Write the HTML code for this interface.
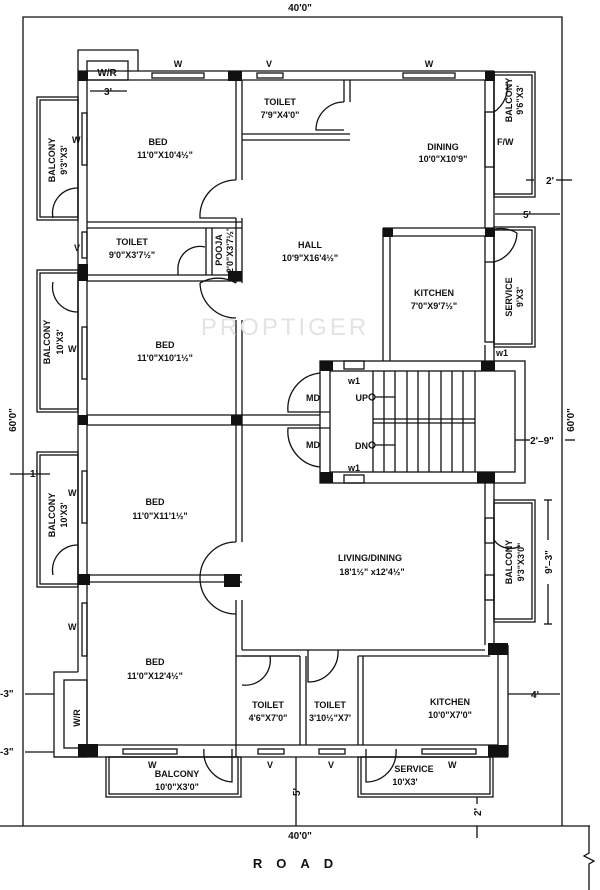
<!DOCTYPE html>
<html><head><meta charset="utf-8"><style>
html,body{margin:0;padding:0;background:#fff;}
svg{display:block;}
text{font-family:"Liberation Sans",sans-serif;fill:#111;font-weight:bold;}
.t{font-size:10px;}
.s{font-size:9px;}
</style></head><body>
<svg width="600" height="890" viewBox="0 0 600 890" xmlns="http://www.w3.org/2000/svg">
<g fill="none" stroke="#111" stroke-width="1.3">
<polyline points="23,826 23,17 562,17 562,826"/>
<line x1="0" y1="826" x2="590" y2="826"/>
<polyline points="589,826 589,853 584,856 594,861 589,864 589,890"/>
<polyline points="78,71 78,50 138,50 138,71"/>
<rect x="87" y="61" width="41" height="19"/>
<line x1="78" y1="71" x2="494" y2="71"/><line x1="87" y1="80" x2="485" y2="80"/>
<line x1="78" y1="71" x2="78" y2="672"/><line x1="87" y1="80" x2="87" y2="745"/>
<polyline points="78,672 54,672 54,757 87,757"/>
<rect x="64" y="680" width="23" height="68"/>
<line x1="494" y1="71" x2="494" y2="361"/><line x1="485" y1="80" x2="485" y2="228"/>
<line x1="236" y1="80" x2="236" y2="180"/><line x1="242" y1="140" x2="242" y2="180"/>
<line x1="236" y1="218" x2="236" y2="283"/><line x1="242" y1="218" x2="242" y2="283"/>
<line x1="236" y1="320" x2="236" y2="542"/><line x1="242" y1="320" x2="242" y2="542"/>
<line x1="236" y1="600" x2="236" y2="757"/><line x1="242" y1="600" x2="242" y2="650"/>
<line x1="242" y1="80" x2="242" y2="140"/><line x1="242" y1="134" x2="350" y2="134"/><line x1="242" y1="140" x2="350" y2="140"/>
<line x1="344" y1="80" x2="344" y2="102"/><line x1="350" y1="80" x2="350" y2="102"/>
<path d="M344,102 A28,28 0 0 0 316,130 L344,130"/>
<line x1="87" y1="222" x2="242" y2="222"/><line x1="87" y1="228" x2="242" y2="228"/>
<line x1="87" y1="275" x2="242" y2="275"/><line x1="87" y1="281" x2="242" y2="281"/>
<line x1="206" y1="228" x2="206" y2="275"/><line x1="212" y1="228" x2="212" y2="275"/>
<path d="M205,247 A22,22 0 0 0 178,270 L178,275"/>
<path d="M236,180 A36,36 0 0 0 200,218 L236,218"/>
<path d="M236,283 A36,36 0 0 0 200,283 M200,283 A36,36 0 0 0 236,318"/>
<line x1="87" y1="415" x2="320" y2="415"/><line x1="87" y1="425" x2="320" y2="425"/>
<line x1="87" y1="575" x2="242" y2="575"/><line x1="87" y1="582" x2="242" y2="582"/>
<path d="M236,542 A36,36 0 0 0 200,578 M200,578 A36,36 0 0 0 236,614"/>
<rect x="37" y="97" width="41" height="123"/><rect x="40" y="100" width="38" height="117"/>
<path d="M78,188 A25,25 0 0 0 53,218"/>
<rect x="37" y="270" width="41" height="142"/><rect x="40" y="273" width="38" height="136"/>
<path d="M53,282 A25,25 0 0 0 78,312"/>
<rect x="37" y="452" width="41" height="135"/><rect x="40" y="455" width="38" height="129"/>
<path d="M78,545 A25,25 0 0 0 53,575"/>
<rect x="82" y="113" width="5" height="52"/><rect x="82" y="232" width="5" height="26"/>
<rect x="82" y="327" width="5" height="52"/><rect x="82" y="471" width="5" height="52"/><rect x="82" y="603" width="5" height="53"/>
<rect x="152" y="73" width="52" height="5"/><rect x="257" y="73" width="26" height="5"/><rect x="403" y="73" width="52" height="5"/>
<line x1="383" y1="228" x2="494" y2="228"/><line x1="390" y1="236" x2="485" y2="236"/>
<line x1="383" y1="228" x2="383" y2="361"/><line x1="390" y1="236" x2="390" y2="361"/>
<line x1="485" y1="236" x2="485" y2="262"/><line x1="485" y1="345" x2="485" y2="361"/>
<path d="M485,233 A31,31 0 0 1 517,233 M517,233 A31,31 0 0 1 494,262"/>
<rect x="494" y="72" width="41" height="125"/><rect x="494" y="75" width="38" height="119"/>
<rect x="485" y="112" width="9" height="55"/>
<path d="M507,82 A30,30 0 0 1 494,112"/>
<rect x="494" y="227" width="41" height="120"/><rect x="494" y="230" width="38" height="114"/>
<rect x="485" y="262" width="9" height="80"/>
<rect x="494" y="500" width="41" height="122"/><rect x="494" y="503" width="38" height="116"/>
<rect x="485" y="518" width="9" height="25"/><rect x="485" y="575" width="9" height="25"/>
<path d="M494,540 A20,20 0 0 0 520,546"/>
<rect x="320" y="361" width="205" height="122"/><rect x="330" y="371" width="185" height="101"/>
<rect x="344" y="361" width="20" height="8"/><rect x="344" y="475" width="20" height="8"/>
<line x1="373" y1="371" x2="373" y2="472"/><line x1="384" y1="371" x2="384" y2="472"/><line x1="395" y1="371" x2="395" y2="472"/>
<line x1="407" y1="371" x2="407" y2="472"/><line x1="418" y1="371" x2="418" y2="472"/><line x1="429" y1="371" x2="429" y2="472"/>
<line x1="441" y1="371" x2="441" y2="472"/><line x1="452" y1="371" x2="452" y2="472"/><line x1="463" y1="371" x2="463" y2="472"/>
<line x1="475" y1="371" x2="475" y2="472"/>
<line x1="373" y1="419" x2="475" y2="419"/><line x1="373" y1="423" x2="475" y2="423"/>
<circle cx="372" cy="397" r="3"/><line x1="375" y1="397" x2="395" y2="397"/>
<circle cx="372" cy="445" r="3"/><line x1="375" y1="445" x2="395" y2="445"/>
<path d="M320,373 A36,36 0 0 0 288,412 L330,412 M320,467 A36,36 0 0 1 288,428 L330,428"/>
<line x1="485" y1="483" x2="485" y2="645"/><line x1="494" y1="483" x2="494" y2="645"/>
<line x1="242" y1="650" x2="485" y2="650"/><line x1="242" y1="656" x2="300" y2="656"/><line x1="358" y1="656" x2="490" y2="656"/>
<line x1="236" y1="656" x2="300" y2="656"/><line x1="300" y1="656" x2="300" y2="745"/><line x1="306" y1="656" x2="306" y2="745"/>
<line x1="358" y1="656" x2="358" y2="745"/><line x1="363" y1="656" x2="363" y2="745"/>
<path d="M270,656 A25,25 0 0 1 242,685"/>
<path d="M338,650 A30,30 0 0 1 308,682 L308,650"/>
<line x1="498" y1="655" x2="498" y2="745"/><line x1="508" y1="645" x2="508" y2="757"/>
<line x1="87" y1="745" x2="498" y2="745"/><line x1="54" y1="757" x2="508" y2="757"/>
<rect x="123" y="749" width="54" height="5"/><rect x="258" y="749" width="26" height="5"/><rect x="319" y="749" width="26" height="5"/><rect x="422" y="749" width="54" height="5"/>
<rect x="106" y="757" width="135" height="40"/><rect x="109" y="757" width="129" height="37"/>
<path d="M204,749 A30,30 0 0 0 232,782 L232,749"/>
<rect x="358" y="757" width="135" height="40"/><rect x="361" y="757" width="129" height="37"/>
<path d="M396,749 A30,30 0 0 1 366,782 L366,749"/>
<line x1="90" y1="91" x2="127" y2="91"/>
<line x1="556" y1="180" x2="572" y2="180"/><line x1="534" y1="180" x2="526" y2="180"/>
<line x1="495" y1="214" x2="560" y2="214"/>
<line x1="515" y1="440" x2="530" y2="440"/><line x1="565" y1="440" x2="575" y2="440"/>
<line x1="548" y1="500" x2="548" y2="624"/><line x1="544" y1="500" x2="552" y2="500"/><line x1="544" y1="624" x2="552" y2="624"/>
<line x1="508" y1="694" x2="560" y2="694"/>
<line x1="10" y1="474" x2="50" y2="474"/>
<line x1="25" y1="694" x2="54" y2="694"/><line x1="25" y1="752" x2="54" y2="752"/>
<line x1="296" y1="757" x2="296" y2="826"/>
<line x1="477" y1="797" x2="477" y2="804"/><line x1="477" y1="826" x2="477" y2="838"/>
</g>
<g fill="#111">
<rect x="78" y="71" width="10" height="10"/><rect x="228" y="71" width="14" height="10"/><rect x="485" y="71" width="10" height="10"/>
<rect x="78" y="264" width="10" height="17"/><rect x="228" y="271" width="14" height="10"/>
<rect x="383" y="228" width="10" height="9"/><rect x="485" y="228" width="10" height="9"/>
<rect x="320" y="361" width="13" height="10"/><rect x="481" y="361" width="14" height="10"/>
<rect x="320" y="472" width="13" height="11"/><rect x="477" y="472" width="18" height="11"/>
<rect x="78" y="415" width="10" height="10"/><rect x="231" y="415" width="11" height="10"/>
<rect x="78" y="574" width="12" height="11"/><rect x="224" y="574" width="16" height="13"/>
<rect x="488" y="643" width="20" height="12"/><rect x="488" y="745" width="20" height="12"/>
<rect x="78" y="744" width="20" height="13"/>
</g>
<rect x="542" y="540" width="12" height="44" fill="#fff"/>
<text x="300" y="11" class="t" text-anchor="middle">40'0"</text>
<text x="300" y="839" class="t" text-anchor="middle">40'0"</text>
<text x="300" y="868" font-size="13" text-anchor="middle" letter-spacing="14">ROAD</text>
<text transform="translate(16,420) rotate(-90)" class="t" text-anchor="middle">60'0"</text>
<text transform="translate(574,420) rotate(-90)" class="t" text-anchor="middle">60'0"</text>
<text x="107" y="76" class="t" text-anchor="middle">W/R</text>
<text x="108" y="95" class="t" text-anchor="middle">3'</text>
<text x="178" y="67" class="s" text-anchor="middle">W</text><text x="269" y="67" class="s" text-anchor="middle">V</text><text x="429" y="67" class="s" text-anchor="middle">W</text>
<text x="280" y="105" class="s" text-anchor="middle">TOILET</text><text x="280" y="118" class="s" text-anchor="middle">7'9"X4'0"</text>
<text x="158" y="145" class="s" text-anchor="middle">BED</text><text x="165" y="158" class="s" text-anchor="middle">11'0"X10'4½"</text>
<text x="443" y="150" class="s" text-anchor="middle">DINING</text><text x="443" y="162" class="s" text-anchor="middle">10'0"X10'9"</text>
<text x="72" y="143" class="s">W</text>
<text transform="translate(55,160) rotate(-90)" class="s" text-anchor="middle">BALCONY</text>
<text transform="translate(67,160) rotate(-90)" class="s" text-anchor="middle">9'3"X3'</text>
<text transform="translate(512,100) rotate(-90)" class="s" text-anchor="middle">BALCONY</text>
<text transform="translate(523,100) rotate(-90)" class="s" text-anchor="middle">9'6"X3'</text>
<text x="497" y="145" class="s">F/W</text>
<text x="550" y="184" class="t" text-anchor="middle">2'</text>
<text x="527" y="218" class="t" text-anchor="middle">5'</text>
<text x="132" y="245" class="s" text-anchor="middle">TOILET</text><text x="132" y="258" class="s" text-anchor="middle">9'0"X3'7½"</text>
<text x="74" y="251" class="s">V</text>
<text transform="translate(222,250) rotate(-90)" class="s" text-anchor="middle" font-size="8">POOJA</text>
<text transform="translate(233,250) rotate(-90)" class="s" text-anchor="middle" font-size="8">2'0"X3'7½"</text>
<text x="310" y="248" class="s" text-anchor="middle">HALL</text><text x="310" y="261" class="s" text-anchor="middle">10'9"X16'4½"</text>
<text x="434" y="296" class="s" text-anchor="middle">KITCHEN</text><text x="434" y="309" class="s" text-anchor="middle">7'0"X9'7½"</text>
<text transform="translate(512,297) rotate(-90)" class="s" text-anchor="middle">SERVICE</text>
<text transform="translate(523,297) rotate(-90)" class="s" text-anchor="middle">9'X3'</text>
<text x="496" y="356" class="s">w1</text>
<text x="165" y="348" class="s" text-anchor="middle">BED</text><text x="165" y="361" class="s" text-anchor="middle">11'0"X10'1½"</text>
<text transform="translate(50,342) rotate(-90)" class="s" text-anchor="middle">BALCONY</text>
<text transform="translate(63,342) rotate(-90)" class="s" text-anchor="middle">10'X3'</text>
<text x="68" y="352" class="s">W</text>
<text x="348" y="384" class="s">w1</text><text x="348" y="471" class="s">w1</text>
<text x="320" y="401" class="s" text-anchor="end" font-size="8">MD</text><text x="320" y="448" class="s" text-anchor="end" font-size="8">MD</text>
<text x="368" y="401" class="s" text-anchor="end" font-size="8">UP</text><text x="368" y="449" class="s" text-anchor="end" font-size="8">DN</text>
<text x="542" y="444" class="t" text-anchor="middle">2'–9"</text>
<text x="30" y="477" class="t">1'</text>
<text x="155" y="505" class="s" text-anchor="middle">BED</text><text x="160" y="519" class="s" text-anchor="middle">11'0"X11'1½"</text>
<text transform="translate(55,515) rotate(-90)" class="s" text-anchor="middle">BALCONY</text>
<text transform="translate(67,515) rotate(-90)" class="s" text-anchor="middle">10'X3'</text>
<text x="68" y="496" class="s">W</text>
<text x="370" y="561" class="s" text-anchor="middle">LIVING/DINING</text><text x="372" y="575" class="s" text-anchor="middle">18'1½" x12'4½"</text>
<text transform="translate(512,562) rotate(-90)" class="s" text-anchor="middle">BALCONY</text>
<text transform="translate(524,562) rotate(-90)" class="s" text-anchor="middle">9'3"X3'0"</text>
<text transform="translate(552,562) rotate(-90)" class="t" text-anchor="middle">9'–3"</text>
<text x="68" y="630" class="s">W</text>
<text x="155" y="665" class="s" text-anchor="middle">BED</text><text x="155" y="679" class="s" text-anchor="middle">11'0"X12'4½"</text>
<text transform="translate(80,718) rotate(-90)" class="s" text-anchor="middle">W/R</text>
<text x="0" y="697" class="t">-3"</text><text x="0" y="755" class="t">-3"</text>
<text x="268" y="708" class="s" text-anchor="middle">TOILET</text><text x="268" y="721" class="s" text-anchor="middle">4'6"X7'0"</text>
<text x="330" y="708" class="s" text-anchor="middle">TOILET</text><text x="330" y="721" class="s" text-anchor="middle">3'10½"X7'</text>
<text x="450" y="705" class="s" text-anchor="middle">KITCHEN</text><text x="450" y="718" class="s" text-anchor="middle">10'0"X7'0"</text>
<text x="535" y="698" class="t" text-anchor="middle">4'</text>
<text x="148" y="768" class="s">W</text><text x="270" y="768" class="s" text-anchor="middle">V</text><text x="331" y="768" class="s" text-anchor="middle">V</text><text x="448" y="768" class="s">W</text>
<text x="177" y="777" class="s" text-anchor="middle">BALCONY</text><text x="177" y="790" class="s" text-anchor="middle">10'0"X3'0"</text>
<text x="414" y="772" class="s" text-anchor="middle">SERVICE</text><text x="405" y="785" class="s" text-anchor="middle">10'X3'</text>
<text transform="translate(300,792) rotate(-90)" class="t" text-anchor="middle">5'</text>
<text transform="translate(481,812) rotate(-90)" class="t" text-anchor="middle">2'</text>
<text x="285" y="335" font-size="24" style="fill:#e3e3e3;font-weight:normal" text-anchor="middle" letter-spacing="3">PROPTIGER</text>
</svg>
</body></html>
